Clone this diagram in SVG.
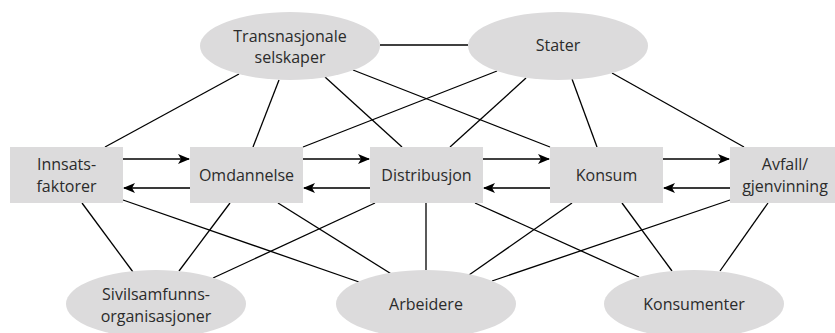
<svg xmlns="http://www.w3.org/2000/svg" width="835" height="333" viewBox="0 0 835 333">
<style>
.n{fill:#dcdbdc}
.t{font-family:"Open Sans","Liberation Sans",sans-serif;font-size:16px;fill:#2b2b2b;text-anchor:middle}
.c line{stroke:#000;stroke-width:1.3}
.c line.b{stroke:#3a3a3a;stroke-width:2}
</style>
<defs>
<marker id="ah" viewBox="0 0 12 10" refX="11" refY="5" markerWidth="12" markerHeight="10" markerUnits="userSpaceOnUse" orient="auto">
<path d="M0,0 L12,5 L0,10 L3,5 Z" fill="#000"/>
</marker>
</defs>
<rect width="835" height="333" fill="#fff"/>
<g class="c" id="connectors">
<line x1="380" y1="45" x2="468" y2="45"/>
<line x1="239" y1="74" x2="105" y2="147"/>
<line x1="279" y1="80" x2="253" y2="147"/>
<line x1="325" y1="77" x2="402" y2="147"/>
<line x1="353" y1="70" x2="550" y2="147"/>
<line x1="497" y1="71" x2="303" y2="147"/>
<line x1="526" y1="78" x2="450" y2="147"/>
<line x1="572" y1="79" x2="597" y2="147"/>
<line x1="612" y1="73" x2="744" y2="147"/>
<line x1="82" y1="203" x2="133" y2="272"/>
<line x1="230" y1="203" x2="179" y2="271"/>
<line x1="375" y1="203" x2="213" y2="278"/>
<line x1="123" y1="200" x2="359" y2="282"/>
<line x1="278" y1="203" x2="393" y2="275"/>
<line x1="426" y1="203" x2="426" y2="270"/>
<line x1="475" y1="203" x2="639" y2="277"/>
<line x1="572" y1="203" x2="469" y2="275"/>
<line x1="730" y1="200" x2="492" y2="281"/>
<line x1="622" y1="203" x2="672" y2="271"/>
<line x1="768" y1="203" x2="720" y2="271"/>
<line x1="123" y1="159" x2="189" y2="159" marker-end="url(#ah)"/>
<line x1="303" y1="159" x2="369" y2="159" marker-end="url(#ah)"/>
<line x1="483" y1="159" x2="549" y2="159" marker-end="url(#ah)"/>
<line x1="663" y1="159" x2="729" y2="159" marker-end="url(#ah)"/>
<line class="b" x1="190" y1="188" x2="124" y2="188" marker-end="url(#ah)"/>
<line class="b" x1="370" y1="188" x2="304" y2="188" marker-end="url(#ah)"/>
<line class="b" x1="550" y1="188" x2="484" y2="188" marker-end="url(#ah)"/>
<line class="b" x1="730" y1="188" x2="664" y2="188" marker-end="url(#ah)"/>
</g>
<g id="transnasjonale">
<ellipse class="n" cx="290" cy="46" rx="90" ry="34"/>
<text class="t" x="290" y="42">Transnasjonale</text>
<text class="t" x="290" y="63">selskaper</text>
</g>
<g id="stater">
<ellipse class="n" cx="558" cy="46" rx="90" ry="34"/>
<text class="t" x="558" y="51">Stater</text>
</g>
<g id="innsatsfaktorer">
<rect class="n" x="10" y="147" width="113" height="56"/>
<text class="t" x="66.5" y="170">Innsats-</text>
<text class="t" x="66.5" y="192">faktorer</text>
</g>
<g id="omdannelse">
<rect class="n" x="190" y="147" width="113" height="56"/>
<text class="t" x="246.5" y="181">Omdannelse</text>
</g>
<g id="distribusjon">
<rect class="n" x="370" y="147" width="113" height="56"/>
<text class="t" x="426.5" y="181">Distribusjon</text>
</g>
<g id="konsum">
<rect class="n" x="550" y="147" width="113" height="56"/>
<text class="t" x="606.5" y="181">Konsum</text>
</g>
<g id="avfall">
<rect class="n" x="730" y="147" width="113" height="56"/>
<text class="t" x="785" y="170">Avfall/</text>
<text class="t" x="785" y="192">gjenvinning</text>
</g>
<g id="sivilsamfunn">
<ellipse class="n" cx="156" cy="304" rx="90" ry="34"/>
<text class="t" x="156" y="300">Sivilsamfunns-</text>
<text class="t" x="156" y="322">organisasjoner</text>
</g>
<g id="arbeidere">
<ellipse class="n" cx="426" cy="304" rx="90" ry="34"/>
<text class="t" x="426" y="310">Arbeidere</text>
</g>
<g id="konsumenter">
<ellipse class="n" cx="694" cy="304" rx="90" ry="34"/>
<text class="t" x="694" y="310">Konsumenter</text>
</g>
</svg>
